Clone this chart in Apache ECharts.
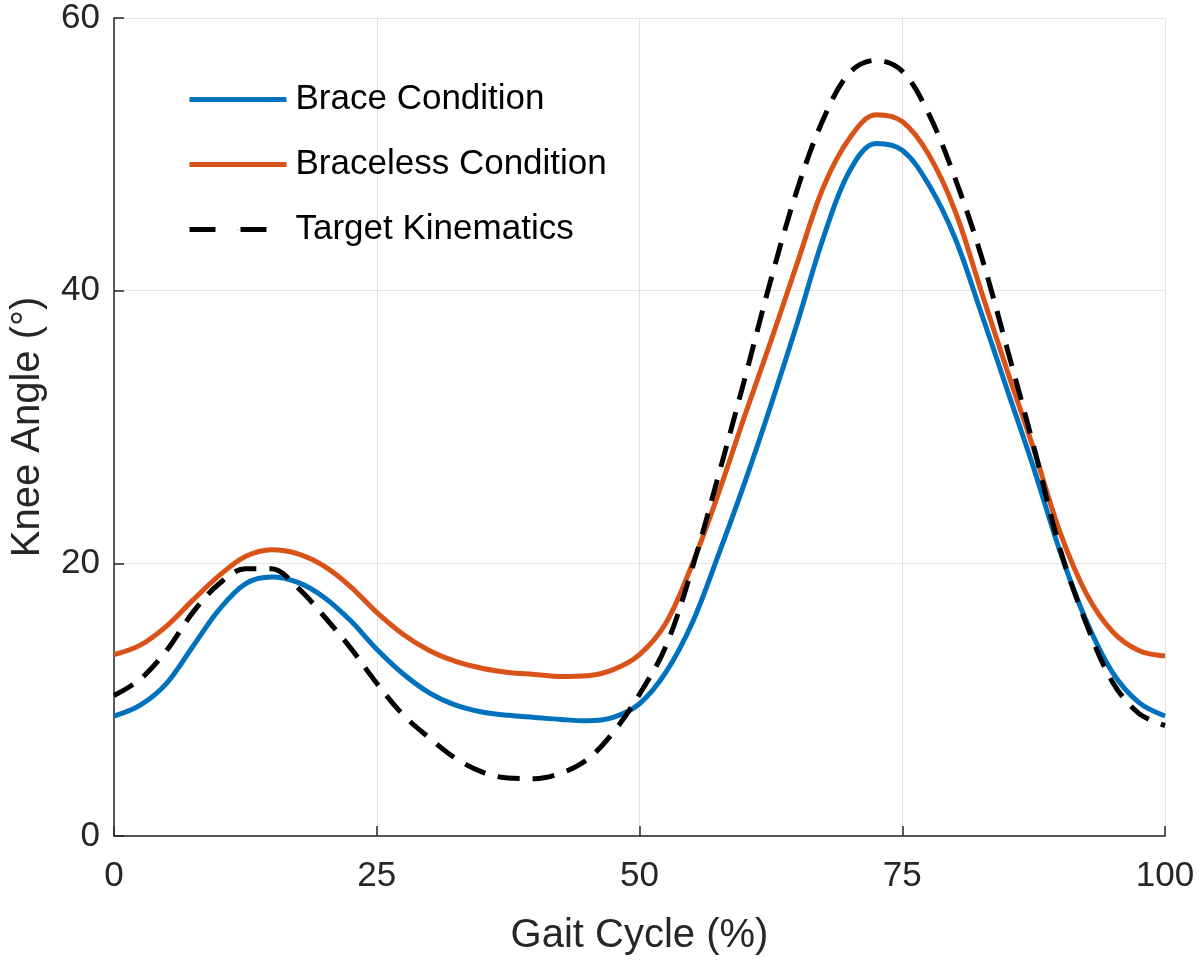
<!DOCTYPE html>
<html>
<head>
<meta charset="utf-8">
<script src="https://cdn.jsdelivr.net/npm/echarts@6/dist/echarts.min.js"></script>
<style>
html,body{margin:0;padding:0;background:#fff;}
#chart{width:1200px;height:961px;}
</style>
</head>
<body>
<div id="chart"></div>
<script>
const gaitCycle = [0,2.5,5,7.5,10,12.5,15,17.5,20,22.5,25,27.5,30,32.5,35,37.5,40,42.5,45,47.5,50,52.5,55,57.5,60,62.5,65,67.5,70,72.5,75,77.5,80,82.5,85,87.5,90,92.5,95,97.5,100];
const braceCondition = [8.8,9.6,11.2,13.9,16.6,18.5,19.0,18.6,17.5,15.8,13.7,11.9,10.5,9.6,9.1,8.85,8.7,8.55,8.45,8.7,9.7,12.0,15.6,20.6,25.9,31.6,37.6,43.9,48.8,50.8,50.3,47.8,43.9,38.4,32.7,27.0,20.9,15.8,12.0,9.8,8.8];
const bracelessCondition = [13.3,14.0,15.4,17.3,19.1,20.5,21.0,20.7,19.8,18.3,16.4,14.8,13.6,12.8,12.3,12.0,11.85,11.7,11.75,12.2,13.3,15.6,19.9,25.1,30.8,36.3,42.0,47.6,51.2,52.9,52.4,50.0,45.9,40.0,34.1,28.4,22.3,17.8,15.0,13.6,13.2];
const targetKinematics = [10.3,11.5,13.6,16.4,18.5,19.6,19.6,18.2,16.1,13.8,11.2,8.9,7.2,5.7,4.7,4.25,4.2,4.6,5.6,7.6,10.4,13.9,19.6,26.4,33.5,40.8,47.4,52.6,56.0,56.9,56.1,53.0,48.3,42.6,35.7,28.6,21.1,15.6,11.3,9.0,8.1];
const xTicks = [0,25,50,75,100];
const yTicks = [0,20,40,60];
const seriesNames = ['Brace Condition','Braceless Condition','Target Kinematics'];

const FONT = '"Liberation Sans", Arial, Helvetica, sans-serif';
const pair = arr => gaitCycle.map((x,i)=>[x,arr[i]]);

const chart = echarts.init(document.getElementById('chart'));
chart.setOption({
  animation:false,
  backgroundColor:'#ffffff',
  grid:{left:112,right:35,top:18,bottom:124,containLabel:false},
  legend:{
    orient:'vertical', left:187, top:82, padding:0,
    itemWidth:97, itemHeight:1, itemGap:30,
    lineStyle:{width:5},
    textStyle:{fontSize:35, lineHeight:34, color:'#000', fontFamily:FONT, padding:[0,0,0,4]},
    data:[
      {name:seriesNames[0]},
      {name:seriesNames[1]},
      {name:seriesNames[2], lineStyle:{width:5, type:[26,25]}}
    ]
  },
  xAxis:{
    type:'value', min:xTicks[0], max:xTicks[xTicks.length-1], interval:25,
    name:'Gait Cycle (%)', nameLocation:'middle', nameGap:80,
    nameTextStyle:{fontSize:40, lineHeight:40, color:'#262626', fontFamily:FONT},
    axisLine:{show:true, lineStyle:{color:'#262626', width:1.5}},
    axisTick:{show:true, inside:true, length:10, lineStyle:{color:'#262626', width:1.5}},
    axisLabel:{fontSize:35, lineHeight:35, color:'#262626', fontFamily:FONT, margin:23},
    splitLine:{show:true, lineStyle:{color:'#e3e3e3', width:1}}
  },
  yAxis:{
    type:'value', min:yTicks[0], max:yTicks[yTicks.length-1], interval:20,
    name:'Knee Angle (°)', nameLocation:'middle', nameGap:66,
    nameTextStyle:{fontSize:40, lineHeight:40, color:'#262626', fontFamily:FONT},
    axisLine:{show:true, lineStyle:{color:'#262626', width:1.5}},
    axisTick:{show:true, inside:true, length:10, lineStyle:{color:'#262626', width:1.5}},
    axisLabel:{fontSize:35, color:'#262626', fontFamily:FONT, margin:14},
    splitLine:{show:true, lineStyle:{color:'#e3e3e3', width:1}}
  },
  series:[
    {name:seriesNames[0], type:'line', data:pair(braceCondition), smooth:0.35, showSymbol:false, symbol:'none',
     lineStyle:{color:'#0072BD', width:5}, itemStyle:{color:'#0072BD'}, z:3},
    {name:seriesNames[1], type:'line', data:pair(bracelessCondition), smooth:0.35, showSymbol:false, symbol:'none',
     lineStyle:{color:'#D95319', width:5}, itemStyle:{color:'#D95319'}, z:2},
    {name:seriesNames[2], type:'line', data:pair(targetKinematics), smooth:0.35, showSymbol:false, symbol:'none',
     lineStyle:{color:'#000000', width:5, type:[22,13]}, itemStyle:{color:'#000000'}, z:4}
  ]
});
</script>
</body>
</html>
